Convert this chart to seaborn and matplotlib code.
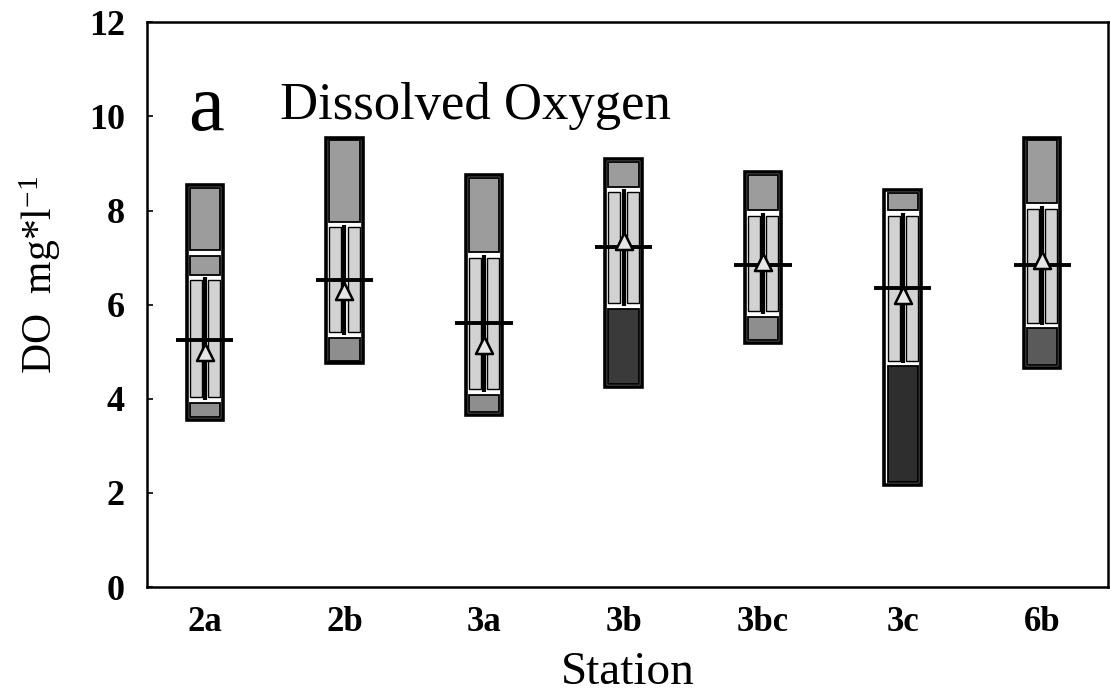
import numpy as np
import pandas as pd
import matplotlib
matplotlib.use("Agg")
import matplotlib.pyplot as plt
import seaborn as sns
from matplotlib.patches import Rectangle

# ── data ─────────────────────────────────────────────────────────────
stations  = ["2a", "2b", "3a", "3b", "3bc", "3c", "6b"]
do_max    = [8.54, 9.55, 8.75, 9.10, 8.81, 8.43, 9.55]
do_upper  = [6.58, 7.70, 7.05, 8.45, 7.95, 7.95, 8.10]
do_lower  = [3.97, 5.35, 4.15, 5.97, 5.80, 4.75, 5.56]
do_min    = [3.55, 4.75, 3.65, 4.25, 5.18, 2.17, 4.65]
do_median = [5.24, 6.52, 5.60, 7.22, 6.84, 6.35, 6.84]
do_mean   = [5.00, 6.30, 5.15, 7.35, 6.90, 6.20, 6.95]
extra_split = {"2a": 7.10}   # extra division inside the 2a upper block

sns.set_theme(style="white")
plt.rcParams["font.family"] = ["Liberation Serif", "DejaVu Serif"]
plt.rcParams["mathtext.fontset"] = "custom"
plt.rcParams["mathtext.rm"] = "Liberation Serif"
plt.rcParams["mathtext.it"] = "Liberation Serif:italic"
for k in ["text.color", "axes.labelcolor", "xtick.color", "ytick.color"]:
    plt.rcParams[k] = "black"

TOP_C = "#9c9c9c"
MID_C = "#d2d2d2"
LOW_C = ["#8e8e8e", "#8e8e8e", "#8e8e8e", "#3a3a3a", "#8e8e8e", "#2e2e2e", "#5a5a5a"]

fig = plt.figure(figsize=(11.10, 6.96), dpi=100)
ax = fig.add_axes([0.1324, 0.1566, 0.8656, 0.8114])

df = pd.DataFrame({"station": stations, "mean": do_mean})

W = 0.26     # box width (category units)
gx = 0.022   # inner inset x
gy = 0.06    # inner inset y

for i, st in enumerate(stations):
    lo, hi = do_min[i], do_max[i]
    ql, qu = do_lower[i], do_upper[i]
    # outer frame min-max
    ax.add_patch(Rectangle((i - W / 2, lo), W, hi - lo, facecolor="white",
                           edgecolor="black", linewidth=2.6, zorder=2))
    # upper block
    if st in extra_split:
        sp = extra_split[st]
        ax.add_patch(Rectangle((i - W / 2 + gx, sp + gy), W - 2 * gx, hi - sp - 2 * gy,
                               facecolor=TOP_C, edgecolor="black", linewidth=1.3, zorder=3))
        ax.add_patch(Rectangle((i - W / 2 + gx, qu + gy), W - 2 * gx, sp - qu - 2 * gy,
                               facecolor=TOP_C, edgecolor="black", linewidth=1.3, zorder=3))
    else:
        ax.add_patch(Rectangle((i - W / 2 + gx, qu + gy), W - 2 * gx, hi - qu - 2 * gy,
                               facecolor=TOP_C, edgecolor="black", linewidth=1.3, zorder=3))
    # lower block
    ax.add_patch(Rectangle((i - W / 2 + gx, lo + gy), W - 2 * gx, ql - lo - 2 * gy,
                           facecolor=LOW_C[i], edgecolor="black", linewidth=1.3, zorder=3))
    # middle two columns
    cw = W / 2 - 2 * gx
    ax.add_patch(Rectangle((i - W / 2 + gx, ql + gy), cw, qu - ql - 2 * gy,
                           facecolor=MID_C, edgecolor="black", linewidth=1.0, zorder=3))
    ax.add_patch(Rectangle((i + gx, ql + gy), cw, qu - ql - 2 * gy,
                           facecolor=MID_C, edgecolor="black", linewidth=1.0, zorder=3))
    # central line
    ax.vlines(i, ql, qu, color="black", linewidth=3.0, zorder=4)
    # horizontal line
    ax.hlines(do_median[i], i - 0.205, i + 0.205, color="black", linewidth=2.8, zorder=5)

sns.scatterplot(data=df, x="station", y="mean", marker="^", s=150,
                facecolor="#e6e6e6", edgecolor="black", linewidth=1.8,
                zorder=6, ax=ax, legend=False)

ax.set_xlim(-0.415, 6.47)
ax.set_ylim(0, 12)
ax.set_yticks(np.arange(0, 13, 2))
ax.set_xticks(range(len(stations)))
ax.set_xticklabels(stations, fontsize=25, fontweight="bold")
ax.set_yticklabels([str(v) for v in range(0, 13, 2)], fontsize=26, fontweight="bold")
ax.tick_params(axis="y", direction="in", length=4, width=1.2, left=True, pad=16)
ax.tick_params(axis="x", length=0, pad=14)

for s in ax.spines.values():
    s.set_visible(True)
    s.set_color("black")
    s.set_linewidth(1.8)

ax.set_xlabel("Station", fontsize=34)
ax.xaxis.set_label_coords(0.5, -0.115)
ax.xaxis.label.set_va("top")
ax.set_ylabel("DO  mg*l$^{-1}$", fontsize=30)
ax.yaxis.set_label_coords(-0.087, 0.552)

ax.text(-0.12, 9.72, "a", fontsize=58, ha="left", va="baseline")
ax.text(0.54, 9.95, "Dissolved Oxygen", fontsize=38, ha="left", va="baseline")

fig.savefig("out.png", dpi=100)
